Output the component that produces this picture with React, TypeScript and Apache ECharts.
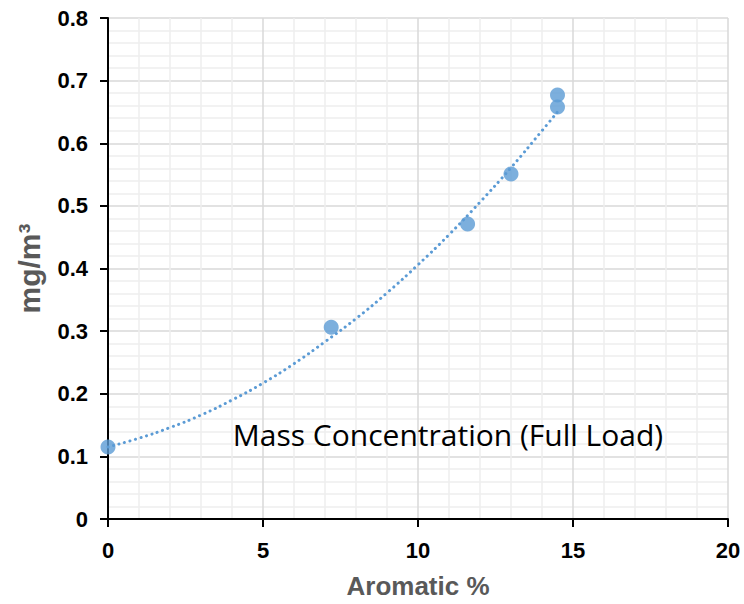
import React, { useEffect, useRef } from "react";
import * as echarts from "echarts";

const aromaticPct = [0, 7.2, 11.6, 13.0, 14.5, 14.5];
const massConc = [0.115, 0.306, 0.471, 0.551, 0.677, 0.658];

// Dotted trendline
const trendX = [0, 1, 2, 3, 4, 5, 6, 7, 8, 9, 10, 11, 12, 13, 14, 14.5];
const trendY = [0.115, 0.129, 0.146, 0.166, 0.19, 0.217, 0.248, 0.283, 0.32, 0.361, 0.406, 0.454, 0.506, 0.561, 0.62, 0.65];

const xTicks = [0, 5, 10, 15, 20];
const yTicks = [0, 0.1, 0.2, 0.3, 0.4, 0.5, 0.6, 0.7, 0.8];

const BLUE = "#5b9bd5";

export default function App() {
  const ref = useRef<HTMLDivElement>(null);
  useEffect(() => {
    if (!ref.current) return;
    const chart = echarts.init(ref.current, null, { renderer: "svg" });
    chart.setOption({
      animation: false,
      backgroundColor: "#ffffff",
      grid: { left: 108, right: 16, top: 18, bottom: 85, containLabel: false, outerBoundsMode: "none" },
      xAxis: {
        type: "value",
        min: xTicks[0],
        max: xTicks[xTicks.length - 1],
        interval: 5,
        name: "Aromatic %",
        nameLocation: "middle",
        nameGap: 54,
        nameTextStyle: { fontFamily: "Liberation Sans", fontWeight: "bold", fontSize: 26, color: "#595959" },
        axisLine: { show: true, onZero: false, lineStyle: { color: "#000", width: 2 } },
        axisTick: { show: true, length: 8, lineStyle: { color: "#000", width: 2 } },
        axisLabel: { margin: 20, fontFamily: "Liberation Sans", fontWeight: "bold", fontSize: 22, color: "#000" },
        splitLine: { show: true, lineStyle: { color: "#d9d9d9", width: 1.5 } },
        minorTick: { show: false, splitNumber: 5 },
        minorSplitLine: { show: true, lineStyle: { color: "#eeeeee", width: 1.5 } },
      },
      yAxis: {
        type: "value",
        min: yTicks[0],
        max: yTicks[yTicks.length - 1],
        interval: 0.1,
        name: "mg/m³",
        nameLocation: "middle",
        nameGap: 64,
        nameTextStyle: { fontFamily: "Liberation Sans", fontWeight: "bold", fontSize: 30, color: "#595959" },
        axisLine: { show: true, onZero: false, lineStyle: { color: "#000", width: 2 } },
        axisTick: { show: true, length: 8, lineStyle: { color: "#000", width: 2 } },
        axisLabel: {
          margin: 20,
          fontFamily: "Liberation Sans",
          fontWeight: "bold",
          fontSize: 22,
          color: "#000",
          formatter: (v: number) => (v === 0 ? "0" : v.toFixed(1)),
        },
        splitLine: { show: true, lineStyle: { color: "#d9d9d9", width: 1.5 } },
        minorTick: { show: false, splitNumber: 5 },
        minorSplitLine: { show: true, lineStyle: { color: "#eeeeee", width: 1.5 } },
      },
      series: [
        {
          type: "line",
          data: trendX.map((x, i) => [x, trendY[i]]),
          smooth: true,
          showSymbol: false,
          symbol: "none",
          lineStyle: { color: BLUE, width: 3, type: [0.1, 5.6], cap: "round" },
          z: 2,
        },
        {
          type: "scatter",
          data: aromaticPct.map((x, i) => [x, massConc[i]]),
          symbol: "circle",
          symbolSize: 15,
          itemStyle: { color: BLUE },
          z: 3,
        },
      ],
      graphic: [
        {
          type: "text",
          x: 448,
          y: 434,
          style: {
            text: "Mass Concentration (Full Load)",
            fontFamily: "Open Sans",
            fontSize: 30,
            fill: "#000",
            align: "center",
            verticalAlign: "middle",
          },
          z: 10,
        },
      ],
    });
    return () => chart.dispose();
  }, []);
  return <div ref={ref} style={{ position: "absolute", left: 0, top: 0, width: 744, height: 604 }} />;
}
